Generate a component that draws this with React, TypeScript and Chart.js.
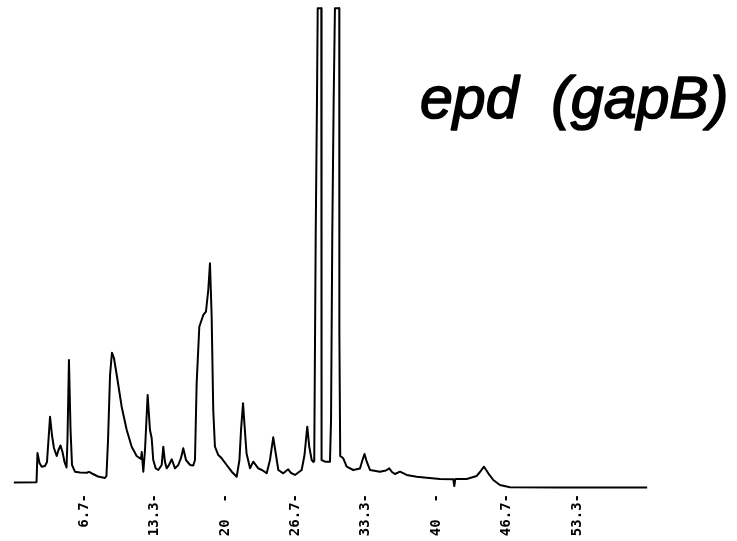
import React, { useEffect, useRef } from "react";
import { Chart, registerables } from "chart.js";

Chart.register(...registerables);

const TITLE = "epd  (gapB)";

// retention time (min)
const TIMES: number[] = [
  0, 2.12, 2.17, 2.26, 2.45, 2.66, 2.97, 3.16, 3.45, 3.63, 3.82, 4.08, 4.25, 4.44, 4.63, 4.82,
  5.01, 5.10, 5.24, 5.39, 5.53, 5.81, 6.29, 6.92, 7.14, 7.42, 7.99, 8.65, 8.79, 8.94, 9.13,
  9.31, 9.50, 9.79, 10.23, 10.71, 11.18, 11.65, 12.06, 12.13, 12.28, 12.44, 12.69, 12.91,
  13.07, 13.22, 13.45, 13.70, 14.02, 14.17, 14.33, 14.49, 14.71, 14.97, 15.28, 15.59, 15.85,
  16.06, 16.32, 16.70, 17.01, 17.17, 17.33, 17.58, 17.96, 18.21, 18.43, 18.59, 18.75, 18.90,
  19.06, 19.38, 19.70, 20.17, 20.65, 21.12, 21.38, 21.53, 21.72, 21.86, 22.05, 22.38, 22.69,
  23.16, 23.51, 23.96, 24.27, 24.58, 24.84, 25.06, 25.53, 25.79, 26.00, 26.26, 26.64, 27.27,
  27.54, 27.80, 27.99, 28.22, 28.39, 28.46, 28.60, 28.72, 28.79, 29.13, 29.14, 29.17, 29.48,
  29.95, 30.05, 30.17, 30.30, 30.42, 30.83, 30.84, 30.92, 31.21, 31.53, 32.16, 32.79, 33.03,
  33.22, 33.43, 33.74, 34.68, 35.25, 35.56, 35.82, 36.10, 36.58, 37.21, 38.16, 39.10, 40.36,
  41.62, 41.72, 41.81, 42.89, 43.84, 44.15, 44.53, 44.94, 45.41, 46.04, 46.99, 51.72, 60,
];

// detector signal (relative units)
const SIGNAL: number[] = [
  1.56, 1.60, 1.67, 7.71, 5.63, 4.85, 5.0, 5.83, 15.27, 11.46, 8.75, 7.08, 8.33, 9.27, 7.92, 5.83,
  4.69, 10.42, 27.08, 12.5, 5.21, 3.81, 3.65, 3.60, 3.79, 3.44, 2.81, 2.5, 2.92, 10.42, 23.96,
  28.6, 27.5, 23.6, 17.35, 12.5, 9.02, 7.08, 6.46, 7.92, 3.81, 8.33, 19.79, 12.5,
  10.83, 6.25, 4.52, 4.17, 5.21, 9.02, 5.83, 4.52, 5.21, 6.40, 4.52, 5.21, 6.67,
  8.69, 6.25, 5.21, 5.10, 6.25, 22.29, 34.02, 36.46, 37.15, 41.67, 47.23, 36.10, 16.67,
  9.02, 7.29, 6.60, 5.21, 3.81, 2.77, 6.25, 12.5, 18.06, 13.54, 7.65, 4.52, 5.90,
  4.52, 4.17, 3.48, 6.25, 10.98, 7.29, 4.17, 3.48, 3.96, 4.31, 3.54, 3.13, 4.17,
  7.29, 13.19, 9.02, 6.25, 5.83, 6.04, 53.54, 81.25, 100.35, 100.35, 32.71, 6.25, 5.90,
  5.90, 14.58, 53.54, 81.25, 100.35, 100.35, 32.71, 7.08, 6.60, 4.85, 4.17, 4.48, 6.25,
  7.5, 5.90, 4.17, 3.81, 4.06, 4.52, 3.75, 3.33, 3.81, 3.13, 2.77, 2.56, 2.29,
  2.23, 0.83, 2.29, 2.29, 2.92, 3.75, 4.85, 3.48, 2.08, 1.04, 0.56, 0.52, 0.52,
];

const TICK_VALUES: number[] = [6.667, 13.333, 20, 26.667, 33.333, 40, 46.667, 53.333];
const TICK_LABELS: string[] = ["6.7-", "13.3-", "20  -", "26.7-", "33.3-", "40  -", "46.7-", "53.3-"];

export default function App() {
  const ref = useRef<HTMLCanvasElement | null>(null);

  useEffect(() => {
    if (!ref.current) return;
    const titlePlugin = {
      id: "chromTitle",
      afterDraw(chart: any) {
        const ctx = chart.ctx;
        ctx.save();
        ctx.font = 'italic 59px "Liberation Sans", Arial, sans-serif';
        ctx.fillStyle = "#000";
        ctx.strokeStyle = "#000";
        ctx.lineWidth = 1.6;
        ctx.lineJoin = "round";
        ctx.textBaseline = "alphabetic";
        ctx.textAlign = "left";
        ctx.fillText(TITLE, 420, 118);
        ctx.strokeText(TITLE, 420, 118);
        ctx.restore();
      },
    };
    const chart = new Chart(ref.current, {
      type: "line",
      data: {
        datasets: [
          {
            data: TIMES.map((t, i) => ({ x: t, y: SIGNAL[i] })),
            borderColor: "#000",
            borderWidth: 2,
            pointRadius: 0,
            tension: 0,
            fill: false,
            borderJoinStyle: "round",
          },
        ],
      },
      options: {
        animation: false,
        responsive: true,
        maintainAspectRatio: false,
        layout: { padding: { left: 13.6, right: 89.6, top: 2.8, bottom: 0 } },
        plugins: { legend: { display: false }, tooltip: { enabled: false }, title: { display: false } },
        scales: {
          x: {
            type: "linear",
            min: 0,
            max: 60,
            grid: { display: false, drawTicks: false },
            border: { display: false },
            afterBuildTicks(scale: any) {
              scale.ticks = TICK_VALUES.map((v) => ({ value: v }));
            },
            afterFit(scale: any) {
              scale.height = 51;
            },
            ticks: {
              autoSkip: false,
              minRotation: 90,
              maxRotation: 90,
              padding: 4,
              color: "#000",
              font: { family: '"DejaVu Sans Mono", monospace', size: 14, weight: "bold" },
              callback: (_v: any, i: number) => TICK_LABELS[i],
            },
          },
          y: {
            display: false,
            min: 0,
            max: 101.5,
          },
        },
      },
      plugins: [titlePlugin],
    });
    return () => chart.destroy();
  }, []);

  return (
    <div style={{ position: "fixed", left: 0, top: 0, width: 737, height: 541, background: "#fff" }}>
      <canvas ref={ref} />
    </div>
  );
}
